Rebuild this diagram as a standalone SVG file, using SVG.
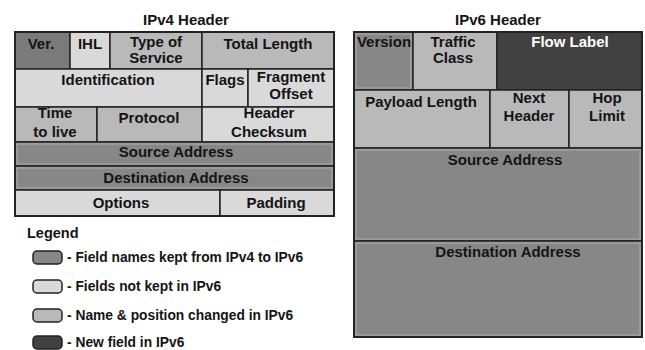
<svg xmlns="http://www.w3.org/2000/svg" width="645" height="350" viewBox="0 0 645 350">
<style>
text{font-family:"Liberation Sans",Arial,sans-serif;font-weight:bold;fill:#141414;}
.t{font-size:15px;text-anchor:middle;}
.h{font-size:15px;text-anchor:middle;}
.lg{font-size:13.8px;}
.c{stroke:#222;stroke-width:1.5;}
.kept{fill:#878787;}
.ver{fill:#7b7b7b;}
.nk{fill:#d9d9d9;}
.chg{fill:#b9b9b9;}
.new{fill:#414141;}
.bev{fill:none;stroke:#9a9a9a;stroke-width:2;}
.sw{stroke:#222;stroke-width:1.5;}
</style>
<rect width="645" height="350" fill="#ffffff"/>
<text class="h" x="186" y="25">IPv4 Header</text>
<text class="h" x="498" y="25">IPv6 Header</text>

<g id="ipv4">
<g id="v4-ver"><rect class="c ver" x="15" y="32" width="55" height="37"/><text class="t" x="41" y="49">Ver.</text></g>
<g id="v4-ihl"><rect class="c nk" x="70" y="32" width="40" height="37"/><text class="t" x="90" y="49">IHL</text></g>
<g id="v4-tos"><rect class="c chg" x="110" y="32" width="92" height="37"/><text class="t" x="156" y="47">Type of</text><text class="t" x="156" y="63">Service</text></g>
<g id="v4-totlen"><rect class="c chg" x="202" y="32" width="132" height="37"/><text class="t" x="268" y="49">Total Length</text></g>
<g id="v4-ident"><rect class="c nk" x="15" y="69" width="187" height="38"/><text class="t" x="108" y="85">Identification</text></g>
<g id="v4-flags"><rect class="c nk" x="202" y="69" width="46" height="38"/><text class="t" x="225" y="85">Flags</text></g>
<g id="v4-frag"><rect class="c nk" x="248" y="69" width="86" height="38"/><text class="t" x="291" y="82">Fragment</text><text class="t" x="291" y="99">Offset</text></g>
<g id="v4-ttl"><rect class="c chg" x="15" y="107" width="82" height="35"/><text class="t" x="55" y="118">Time</text><text class="t" x="55" y="137">to live</text></g>
<g id="v4-proto"><rect class="c chg" x="97" y="107" width="105" height="35"/><text class="t" x="149" y="123">Protocol</text></g>
<g id="v4-csum"><rect class="c nk" x="202" y="107" width="132" height="35"/><text class="t" x="269" y="118">Header</text><text class="t" x="269" y="137">Checksum</text></g>
<g id="v4-src"><rect class="c kept" x="15" y="142" width="319" height="24"/><rect class="bev" x="17" y="144" width="315" height="20"/><text class="t" x="176" y="157">Source Address</text></g>
<g id="v4-dst"><rect class="c kept" x="15" y="166" width="319" height="24"/><rect class="bev" x="17" y="168" width="315" height="20"/><text class="t" x="176" y="183">Destination Address</text></g>
<g id="v4-opt"><rect class="c nk" x="15" y="190" width="205" height="26"/><text class="t" x="121" y="208">Options</text></g>
<g id="v4-pad"><rect class="c nk" x="220" y="190" width="114" height="26"/><text class="t" x="276" y="208">Padding</text></g>
<rect x="15" y="32" width="319" height="184" fill="none" stroke="#222" stroke-width="2"/>
</g>

<g id="ipv6">
<g id="v6-ver"><rect class="c kept" x="354" y="32" width="59" height="58"/><rect class="bev" x="356" y="34" width="55" height="54"/><text class="t" x="384" y="47">Version</text></g>
<g id="v6-tc"><rect class="c chg" x="413" y="32" width="84" height="58"/><text class="t" x="453" y="47">Traffic</text><text class="t" x="453" y="63">Class</text></g>
<g id="v6-flow"><rect class="c new" x="497" y="32" width="145" height="58"/><text class="t" x="570" y="47" style="fill:#ffffff">Flow Label</text></g>
<g id="v6-plen"><rect class="c chg" x="354" y="90" width="136" height="58"/><text class="t" x="421" y="107">Payload Length</text></g>
<g id="v6-next"><rect class="c chg" x="490" y="90" width="79" height="58"/><text class="t" x="529" y="103">Next</text><text class="t" x="529" y="121">Header</text></g>
<g id="v6-hop"><rect class="c chg" x="569" y="90" width="73" height="58"/><text class="t" x="607" y="103">Hop</text><text class="t" x="607" y="121">Limit</text></g>
<g id="v6-src"><rect class="c kept" x="354" y="148" width="288" height="93"/><rect class="bev" x="356" y="150" width="284" height="89"/><text class="t" x="505" y="165">Source Address</text></g>
<g id="v6-dst"><rect class="c kept" x="354" y="241" width="288" height="96"/><rect class="bev" x="356" y="243" width="284" height="92"/><text class="t" x="508" y="257">Destination Address</text></g>
<rect x="354" y="32" width="288" height="305" fill="none" stroke="#222" stroke-width="2"/>
</g>

<g id="legend">
<text class="lg" x="27" y="238" style="font-size:14.5px">Legend</text>
<g id="lg-kept"><rect class="sw kept" x="33" y="251" width="29" height="13" rx="4"/><text class="lg" x="67" y="262">- Field names kept from IPv4 to IPv6</text></g>
<g id="lg-nk"><rect class="sw nk" x="33" y="280" width="29" height="13" rx="4"/><text class="lg" x="67" y="291">- Fields not kept in IPv6</text></g>
<g id="lg-chg"><rect class="sw chg" x="33" y="309" width="29" height="13" rx="4"/><text class="lg" x="67" y="320">- Name &amp; position changed in IPv6</text></g>
<g id="lg-new"><rect class="sw new" x="33" y="336" width="29" height="13" rx="4"/><text class="lg" x="67" y="347">- New field in IPv6</text></g>
</g>
</svg>
